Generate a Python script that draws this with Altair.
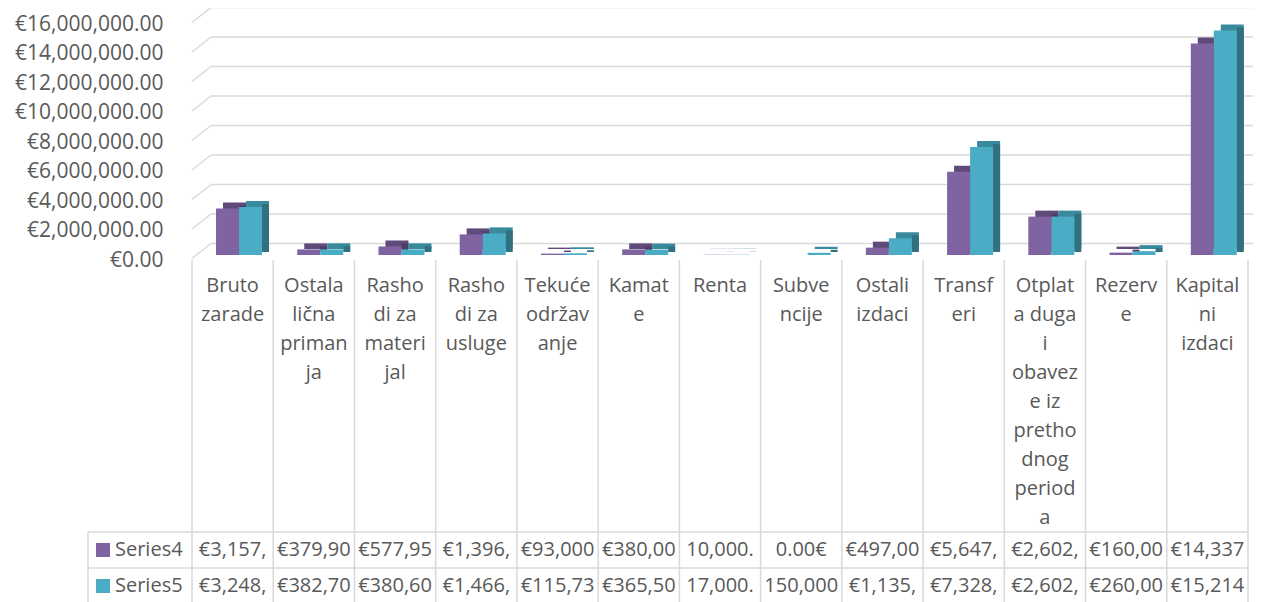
import altair as alt
import pandas as pd

# ---------------- data ----------------
categories = [
    "Bruto zarade", "Ostala lična primanja", "Rashodi za materijal", "Rashodi za usluge",
    "Tekuće održavanje", "Kamate", "Renta", "Subvencije", "Ostali izdaci", "Transferi",
    "Otplata duga i obaveze iz prethodnog perioda", "Rezerve", "Kapitalni izdaci",
]
category_lines = [
    ["Bruto", "zarade"], ["Ostala", "lična", "priman", "ja"], ["Rasho", "di za", "materi", "jal"],
    ["Rasho", "di za", "usluge"], ["Tekuće", "održav", "anje"], ["Kamat", "e"], ["Renta"],
    ["Subve", "ncije"], ["Ostali", "izdaci"], ["Transf", "eri"],
    ["Otplat", "a duga", "i", "obavez", "e iz", "pretho", "dnog", "period", "a"],
    ["Rezerv", "e"], ["Kapital", "ni", "izdaci"],
]
series_names = ["Series4", "Series5"]
series4 = [3157000, 379900, 577950, 1396000, 93000, 380000, 10000, 0,
           497000, 5647000, 2602000, 160000, 14337000]
series5 = [3248000, 382700, 380600, 1466000, 115730, 365500, 17000, 150000,
           1135000, 7328000, 2602000, 260000, 15214000]
series4_table = ["€3,157,", "€379,90", "€577,95", "€1,396,", "€93,000", "€380,00", "10,000.",
                 "0.00€", "€497,00", "€5,647,", "€2,602,", "€160,00", "€14,337"]
series5_table = ["€3,248,", "€382,70", "€380,60", "€1,466,", "€115,73", "€365,50", "17,000.",
                 "150,000", "€1,135,", "€7,328,", "€2,602,", "€260,00", "€15,214"]
y_ticks = [0, 2000000, 4000000, 6000000, 8000000, 10000000, 12000000, 14000000, 16000000]

# ---------------- styling ----------------
W, H = 1056, 583
FONT = "Open Sans"
TXT = "#595959"
GRID = "#d9d9d9"
PURPLE, PURPLE_TOP, PURPLE_SIDE = "#8064A2", "#5F4A7A", "#4F3D66"
TEAL, TEAL_TOP, TEAL_SIDE = "#4BACC6", "#3A8A9E", "#31707F"

df4 = pd.DataFrame({"cat": categories, "value": series4, "series": "Series4"})
df5 = pd.DataFrame({"cat": categories, "value": series5, "series": "Series5"})
ticks_df = pd.DataFrame({"v": y_ticks})
lines_df = pd.DataFrame(
    [{"cat": c, "line": i, "text": t} for c, ls in zip(categories, category_lines) for i, t in enumerate(ls)]
)
table_df = pd.DataFrame(
    [{"cat": c, "row": 0, "text": t} for c, t in zip(categories, series4_table)]
    + [{"cat": c, "row": 1, "text": t} for c, t in zip(categories, series5_table)]
)
legend_df = pd.DataFrame({"series": series_names, "row": [0, 1]})
cats_df = pd.DataFrame({"cat": categories})
last_df = pd.DataFrame({"cat": [categories[-1]]})

xscale = alt.Scale(domain=categories, paddingInner=0, paddingOuter=0)
X = alt.X("cat:N", scale=xscale, axis=None)
yscale = alt.Scale(domain=[0, 16000000], range=[236, 0], nice=False)
row_scale = alt.Scale(domain=[0, 1], range=[531, 567], nice=False, zero=False)
rowline_scale = alt.Scale(domain=[0, 1], range=[513, 549], nice=False, zero=False)
line_scale = alt.Scale(domain=[0, 8], range=[267, 499], nice=False, zero=False)

yaxis = alt.Axis(
    values=y_ticks, labelExpr='"€" + format(datum.value, ",.2f")', domain=False, ticks=False,
    tickSize=0, grid=False, labelPadding=29, labelOffset=5, labelFont=FONT, labelFontSize=21,
    labelColor=TXT, title=None,
)

# back wall gridlines (carry the y axis)
back_grid = alt.Chart(ticks_df).mark_rule(color=GRID, strokeWidth=1.5, yOffset=-11.5).encode(
    y=alt.Y("v:Q", scale=yscale, axis=yaxis), x=alt.value(19), x2=alt.value(W + 5)
)
side_grid = alt.Chart(ticks_df).mark_rule(color=GRID, strokeWidth=1.5, yOffset=3.5, y2Offset=-11.5).encode(
    y=alt.Y("v:Q", scale=yscale, axis=None), y2=alt.Y2("v"), x=alt.value(0), x2=alt.value(19)
)

# data table frame
col_lines = alt.Chart(cats_df).mark_rule(color=GRID, strokeWidth=1.5).encode(
    x=alt.X("cat:N", scale=xscale, axis=None, bandPosition=0), y=alt.value(241), y2=alt.value(H)
)
col_last = alt.Chart(last_df).mark_rule(color=GRID, strokeWidth=1.5).encode(
    x=alt.X("cat:N", scale=xscale, axis=None, bandPosition=1), y=alt.value(241), y2=alt.value(H)
)
row_lines = alt.Chart(legend_df).mark_rule(color=GRID, strokeWidth=1.5).encode(
    y=alt.Y("row:Q", scale=rowline_scale, axis=None), x=alt.value(-104), x2=alt.value(W)
)
left_line = alt.Chart(last_df).mark_rule(color=GRID, strokeWidth=1.5).encode(
    x=alt.value(-104), y=alt.value(513), y2=alt.value(H)
)


def bar_layers(df, front, top, side, off):
    y = alt.Y("value:Q", scale=yscale, axis=None)
    shadow = alt.Chart(df).mark_bar(width=23, xOffset=off + 7, yOffset=-6, y2Offset=-6, color=top).encode(
        x=X, y=y, y2=alt.datum(0)
    )
    sidef = alt.Chart(df).mark_bar(width=7, xOffset=off + 15, yOffset=-3, y2Offset=-3, color=side).encode(
        x=X, y=y, y2=alt.datum(0)
    )
    frontf = alt.Chart(df).mark_bar(width=23, xOffset=off, color=front).encode(
        x=X, y=y, y2=alt.datum(0)
    )
    return [shadow, sidef, frontf]


purple_bars = bar_layers(df4, PURPLE, PURPLE_TOP, PURPLE_SIDE, -5.1)
teal_bars = bar_layers(df5, TEAL, TEAL_TOP, TEAL_SIDE, 17.9)

cat_text = alt.Chart(lines_df).mark_text(
    font=FONT, fontSize=20, color=TXT, align="center", baseline="middle"
).encode(x=X, y=alt.Y("line:Q", scale=line_scale, axis=None), text="text:N")

table_text = alt.Chart(table_df).mark_text(
    font=FONT, fontSize=20, color=TXT, align="center", baseline="middle"
).encode(x=X, y=alt.Y("row:Q", scale=row_scale, axis=None), text="text:N")

legend_keys = alt.Chart(legend_df).mark_square(size=196, opacity=1, filled=True).encode(
    x=alt.value(-89),
    y=alt.Y("row:Q", scale=row_scale, axis=None),
    color=alt.Color("series:N", scale=alt.Scale(domain=series_names, range=[PURPLE, TEAL]), legend=None),
)
legend_text = alt.Chart(legend_df).mark_text(
    font=FONT, fontSize=20, color=TXT, align="left", baseline="middle"
).encode(x=alt.value(-77), y=alt.Y("row:Q", scale=row_scale, axis=None), text="series:N")

chart = alt.layer(
    back_grid, side_grid, col_lines, col_last, row_lines, left_line,
    *purple_bars, *teal_bars,
    cat_text, table_text, legend_keys, legend_text,
).resolve_scale(y="independent", color="independent").properties(
    width=W, height=H,
    autosize=alt.AutoSizeParams(type="none"),
    padding={"left": 184, "top": 11, "right": 5, "bottom": 0},
).configure_view(stroke=None)

chart.save("out.html", embed_options={"renderer": "svg", "actions": False})
